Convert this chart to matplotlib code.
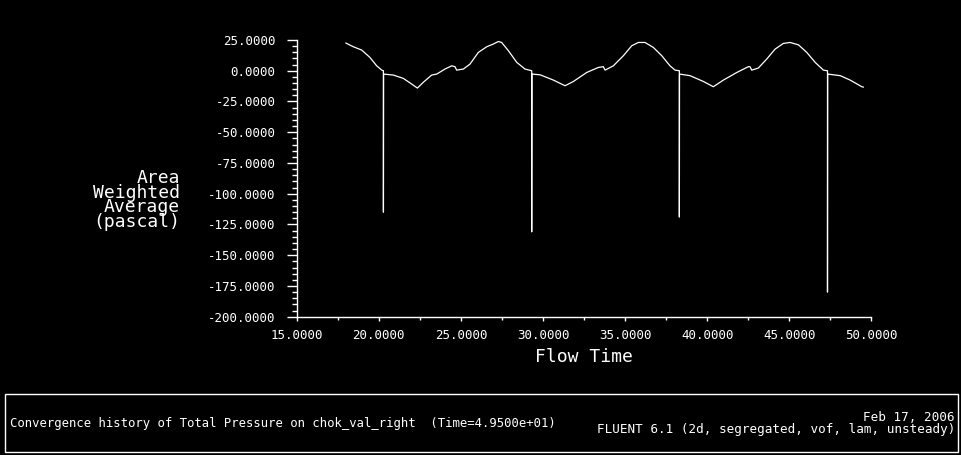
import matplotlib.pyplot as plt
from matplotlib.patches import Rectangle
from matplotlib.ticker import MultipleLocator, FormatStrFormatter

# Flow time and area weighted average total pressure (pascal)
flow_time = [18.0, 18.45, 18.96, 19.46, 19.87, 20.18, 20.28, 20.28, 20.29, 20.88,
             21.49, 22.0, 22.35, 22.7, 23.22, 23.53, 24.03, 24.44, 24.64, 24.74,
             25.15, 25.55, 26.06, 26.57, 26.97, 27.28, 27.48, 27.89, 28.4, 28.9,
             29.31, 29.31, 29.32, 29.82, 30.63, 31.34, 31.85, 32.66, 33.37, 33.67,
             33.78, 34.28, 34.89, 35.4, 35.8, 36.21, 36.72, 37.23, 37.73, 38.04,
             38.3, 38.3, 38.31, 38.95, 39.76, 40.37, 40.98, 41.8, 42.5, 42.6,
             42.71, 43.11, 43.62, 44.13, 44.63, 45.04, 45.55, 46.06, 46.57, 47.07,
             47.32, 47.32, 47.33, 48.1, 48.7, 49.41, 49.5]
pressure = [22.5, 19.5, 16.8, 10.8, 4.0, 0.5, 0.0, -115.0, -2.7, -3.5,
            -6.2, -10.8, -14.1, -9.5, -3.5, -2.7, 1.4, 4.0, 3.3, 0.5,
            1.4, 5.4, 14.9, 19.5, 21.7, 23.8, 23.0, 16.3, 6.8, 1.4,
            0.0, -131.0, -2.7, -3.3, -7.6, -12.2, -8.7, -1.4, 2.7, 3.3,
            0.5, 4.0, 12.2, 20.3, 23.0, 23.0, 18.9, 12.2, 4.0, 0.5,
            0.0, -119.0, -2.7, -4.0, -8.7, -13.0, -7.6, -1.4, 3.3, 3.3,
            0.5, 2.2, 9.5, 17.6, 22.2, 23.0, 21.1, 14.9, 6.8, 0.5,
            0.0, -180.0, -2.7, -4.0, -7.6, -13.0, -13.3]

title_left = "Convergence history of Total Pressure on chok_val_right  (Time=4.9500e+01)"
title_right = "Feb 17, 2006\nFLUENT 6.1 (2d, segregated, vof, lam, unsteady)"

mono = 'DejaVu Sans Mono'
W, H = 962, 455

fig = plt.figure(figsize=(W / 100, H / 100), dpi=100, facecolor='black')
ax = fig.add_axes([296.7 / W, 1 - 316.7 / H, (871.5 - 296.7) / W, (316.7 - 40) / H])
ax.set_facecolor('black')

ax.plot(flow_time, pressure, color='white', linewidth=0.9)

ax.set_xlim(15, 50)
ax.set_ylim(-200, 25)
ax.xaxis.set_major_locator(MultipleLocator(5))
ax.xaxis.set_minor_locator(MultipleLocator(2.5))
ax.yaxis.set_major_locator(MultipleLocator(25))
ax.yaxis.set_minor_locator(MultipleLocator(5))
ax.xaxis.set_major_formatter(FormatStrFormatter('%.4f'))
ax.yaxis.set_major_formatter(FormatStrFormatter('%.4f'))

for side in ['top', 'right']:
    ax.spines[side].set_visible(False)
for side in ['left', 'bottom']:
    ax.spines[side].set_color('white')
    ax.spines[side].set_linewidth(1.0)

ax.tick_params(axis='y', which='major', direction='out', length=7.2, width=1,
               color='white', labelcolor='white', labelsize=9, pad=8)
ax.tick_params(axis='y', which='minor', direction='out', length=3.6, width=1, color='white')
ax.tick_params(axis='x', which='major', direction='out', length=3, width=1,
               color='white', labelcolor='white', labelsize=9, pad=6)
ax.tick_params(axis='x', which='minor', direction='out', length=2, width=1, color='white')
for lab in ax.get_xticklabels() + ax.get_yticklabels():
    lab.set_family(mono)

ax.set_xlabel('Flow Time', color='white', fontsize=13, family=mono, labelpad=4.5)
fig.text(180 / W, 1 - 200 / H, 'Area\nWeighted\nAverage\n(pascal)', color='white',
         fontsize=13, family=mono, ha='right', va='center', multialignment='right',
         linespacing=0.78)

# caption box
fig.patches.append(Rectangle((5 / W, 1 - 452 / H), 953 / W, 58 / H, transform=fig.transFigure,
                             fill=False, edgecolor='white', linewidth=1.0))
fig.text(10 / W, 1 - 423 / H, title_left, color='white', fontsize=8.8, family=mono,
         ha='left', va='center')
fig.text(955 / W, 1 - 423.5 / H, title_right, color='white', fontsize=9.1, family=mono,
         ha='right', va='center', multialignment='right', linespacing=0.95)

fig.savefig('out.png', dpi=100, facecolor='black')
